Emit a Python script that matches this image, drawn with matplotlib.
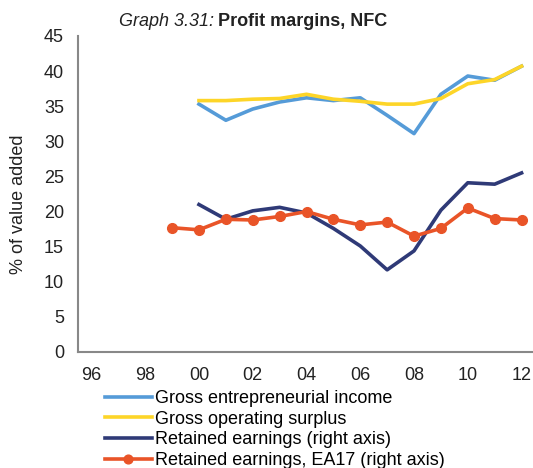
import matplotlib
matplotlib.use("Agg")
import matplotlib.pyplot as plt

plt.rcParams["font.family"] = ["Liberation Sans", "DejaVu Sans"]
plt.rcParams["font.size"] = 13

years = list(range(2000, 2013))
years_ea = list(range(1999, 2013))

gross_entrepreneurial = [35.3, 33.0, 34.6, 35.6, 36.2, 35.8, 36.2, 33.7, 31.1, 36.7, 39.3, 38.7, 40.7]
gross_operating = [35.8, 35.8, 36.0, 36.1, 36.7, 36.0, 35.7, 35.3, 35.3, 36.1, 38.2, 38.8, 40.7]
retained = [21.0, 18.9, 20.1, 20.6, 19.8, 17.6, 15.1, 11.7, 14.4, 20.2, 24.1, 23.9, 25.5]
retained_ea17 = [17.7, 17.4, 18.9, 18.8, 19.3, 20.0, 18.9, 18.1, 18.5, 16.5, 17.6, 20.5, 19.0, 18.8]

tick_years = list(range(1996, 2013, 2))
tick_labels = ["96", "98", "00", "02", "04", "06", "08", "10", "12"]

fig = plt.figure(figsize=(5.33, 4.68), dpi=100)
ax = fig.add_axes([78 / 533, 116 / 468, 457 / 533, 316 / 468])

ax.plot(years, gross_entrepreneurial, color="#559BD8", lw=2.6, label="Gross entrepreneurial income")
ax.plot(years, gross_operating, color="#FDD528", lw=2.6, label="Gross operating surplus")
ax.plot(years, retained, color="#2F3A77", lw=2.6, label="Retained earnings (right axis)")
ax.plot(years_ea, retained_ea17, color="#E95428", lw=2.6, marker="o", ms=7,
        label="Retained earnings, EA17 (right axis)")

ax.set_xlim(1995.5, 2012.5)
ax.set_ylim(0, 45)
ax.set_xticks(tick_years)
ax.set_xticklabels(tick_labels)
ax.set_yticks(range(0, 46, 5))
ax.tick_params(length=0, colors="#222222")
ax.tick_params(axis="x", pad=11)
ax.tick_params(axis="y", pad=10)
for side in ["top", "right"]:
    ax.spines[side].set_visible(False)
for side in ["left", "bottom"]:
    ax.spines[side].set_color("#888888")
    ax.spines[side].set_linewidth(1.5)

ax.set_ylabel("% of value added", color="#222222")
ax.yaxis.set_label_coords(-0.112, 0.468)

fig.text(214 / 533, 1 - 21 / 468, "Graph 3.31:", style="italic", ha="right", va="center", color="#222222")
fig.text(218 / 533, 1 - 21 / 468, "Profit margins, NFC", weight="bold", ha="left", va="center", color="#222222")

fig.legend(loc="upper left", bbox_to_anchor=(105 / 533, 1 - 390 / 468), frameon=False,
           handlelength=2.6, handletextpad=0.15, labelspacing=0.2, borderpad=0, borderaxespad=0,
           markerscale=0.9)

fig.savefig("out.png", dpi=100)
